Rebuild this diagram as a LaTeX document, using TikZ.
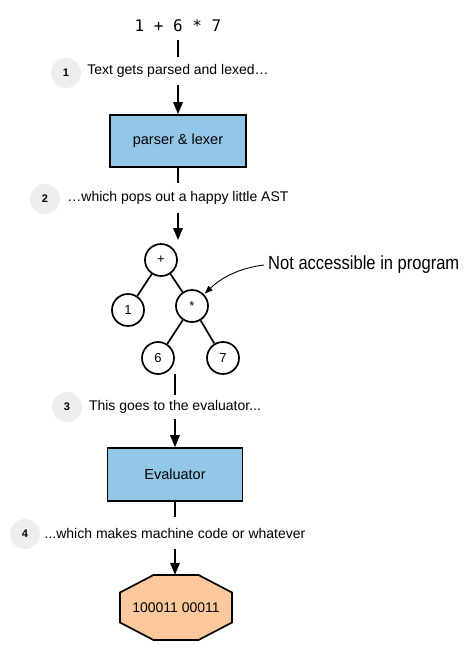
\documentclass[tikz,border=0pt]{standalone}
\usepackage{fontspec}
\setmainfont{Liberation Sans}
\newfontfamily\codefont{DejaVu Sans Mono}
\newfontfamily\handfont[FakeStretch=0.87]{Liberation Sans}
\usetikzlibrary{arrows.meta}
\definecolor{boxblue}{HTML}{92C7E8}
\definecolor{peach}{HTML}{FDC99C}
\definecolor{numgray}{HTML}{EEEEEE}
\tikzset{
  flow/.style={line width=1.7pt},
  arr/.style={flow, -{Triangle[width=9.5pt,length=12pt]}},
  procbox/.style={draw, line width=1.7pt, fill=boxblue, minimum width=136pt, minimum height=52pt, inner sep=0pt, font=\fontsize{14.5}{16}\selectfont},
  lbl/.style={inner sep=0pt, font=\fontsize{14}{16}\selectfont},
  num/.style={circle, fill=numgray, minimum size=30pt, inner sep=0pt, font=\bfseries\fontsize{11}{13}\selectfont},
  tnode/.style={circle, draw, line width=1.7pt, minimum size=32pt, inner sep=0pt, font=\fontsize{13}{15}\selectfont},
  edge/.style={line width=1.7pt},
  notearr/.style={line width=0.9pt, -{Triangle[width=6pt,length=8pt]}},
}
\begin{document}
\begin{tikzpicture}[x=1pt,y=-1pt]
\useasboundingbox (0,0) rectangle (473,651);
% top expression
\node[font=\codefont\fontsize{16}{18}\selectfont, inner sep=0pt, minimum height=28pt] (expr) at (178,26) {1 + 6 * 7};
% step 1
\node[lbl, minimum height=28pt] (l1) at (178,71) {Text gets parsed and lexed…};
\node[num] (n1) at (66,73) {1};
\node[procbox] (parser) at (178,141) {parser \& lexer};
% step 2
\node[lbl, minimum height=29pt] (l2) at (178,198) {…which pops out a happy little AST};
\node[num] (n2) at (45,199) {2};
\coordinate (astin) at (178,240);
% tree
\node[tnode] (plus) at (161,260) {+};
\node[tnode] (one) at (128,310) {1};
\node[tnode] (star) at (192,306) {*};
\node[tnode] (six) at (158,358) {6};
\node[tnode] (seven) at (223,358) {7};
\draw[edge] (plus) -- (one);
\draw[edge] (plus) -- (star);
\draw[edge] (star) -- (six);
\draw[edge] (star) -- (seven);
\coordinate (astout) at (175,374);
% annotation
\node[font=\handfont\fontsize{19}{21}\selectfont, anchor=west, inner sep=0pt] (note) at (268,265) {Not accessible in program};
\draw[notearr, shorten >=1pt] ([xshift=-4pt]note.west) .. controls (240,268) and (222,277) .. (star);
% step 3
\node[lbl, minimum height=23pt] (l3) at (175,407) {This goes to the evaluator...};
\node[num] (n3) at (67,407) {3};
\node[procbox, minimum width=135pt, minimum height=53pt] (eval) at (175,474.5) {Evaluator};
% step 4
\node[lbl, minimum height=31pt] (l4) at (175,533) {...which makes machine code or whatever};
\node[num] (n4) at (25,534) {4};
% output octagon
\coordinate (oc) at (176,607.5);
\draw[line width=1.7pt, fill=peach, shift={(oc)}] (-22.5,-32.5) -- (22.5,-32.5) -- (56,-15) -- (56,15) -- (22.5,32.5) -- (-22.5,32.5) -- (-56,15) -- (-56,-15) -- cycle;
\node[minimum width=112pt, minimum height=65pt, inner sep=0pt, font=\fontsize{14}{16}\selectfont] (out) at (oc) {100011 00011};
% connectors
\draw[flow] (expr) -- (l1);
\draw[arr] (l1) -- (parser);
\draw[flow] (parser) -- (l2);
\draw[arr] (l2) -- (astin);
\draw[flow] (astout) -- (l3);
\draw[arr] (l3) -- (eval);
\draw[flow] (eval) -- (l4);
\draw[arr] (l4.south) -- (l4.south |- out.north);
\end{tikzpicture}
\end{document}
